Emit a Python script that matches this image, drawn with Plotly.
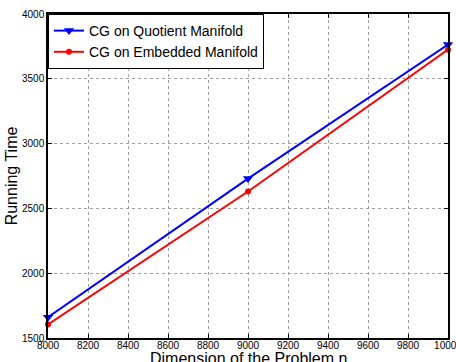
import plotly.graph_objects as go

dims = [8000, 9000, 10000]
quotient = [1660, 2730, 3765]
embedded = [1605, 2630, 3725]
series_names = ["CG on Quotient Manifold", "CG on Embedded Manifold"]
x_ticks = [8000, 8200, 8400, 8600, 8800, 9000, 9200, 9400, 9600, 9800, 10000]
y_ticks = [1500, 2000, 2500, 3000, 3500, 4000]

FONT = "Liberation Sans, Arial, Helvetica"

fig = go.Figure()
fig.add_trace(go.Scatter(x=dims, y=quotient, mode="lines+markers", name=series_names[0],
                         line=dict(color="#0000ff", width=2), cliponaxis=False,
                         marker=dict(symbol="triangle-down", size=9, color="#0000ff")))
fig.add_trace(go.Scatter(x=dims, y=embedded, mode="lines+markers", name=series_names[1],
                         line=dict(color="#ff0000", width=2), cliponaxis=False,
                         marker=dict(symbol="circle", size=6, color="#ff0000")))

axis_common = dict(showline=True, linecolor="black", linewidth=1.5, mirror="ticks",
                   ticks="inside", ticklen=4, tickcolor="black", automargin=False,
                   showgrid=True, gridcolor="#a0a0a0", griddash="dot", gridwidth=1,
                   zeroline=False, tickformat="d", ticklabeloverflow="allow",
                   tickfont=dict(family=FONT, size=10, color="black"))

fig.update_xaxes(range=[8000, 10000], tickmode="array", tickvals=x_ticks,
                 ticktext=[str(v) for v in x_ticks], ticklabelstandoff=-3, **axis_common)
fig.update_yaxes(range=[1500, 4000], tickmode="array", tickvals=y_ticks,
                 ticktext=[str(v) for v in y_ticks],
                 title=dict(text="Running Time", standoff=0,
                            font=dict(family=FONT, size=16, color="black")),
                 **axis_common)

fig.add_annotation(text="Dimension of the Problem n", xref="paper", yref="paper",
                   x=0.5, y=0, xanchor="center", yanchor="top", yshift=-10,
                   showarrow=False, font=dict(family=FONT, size=16, color="black"))

fig.update_layout(width=456, height=362, margin=dict(l=48, r=8, t=14, b=24, autoexpand=False),
                  paper_bgcolor="white", plot_bgcolor="white",
                  legend=dict(x=0, y=1, xanchor="left", yanchor="top", bgcolor="white",
                              bordercolor="black", borderwidth=1,
                              font=dict(family=FONT, size=14, color="black"),
                              tracegroupgap=0, itemwidth=30),
                  showlegend=True)

fig.write_html("out.html", config={"displayModeBar": False},
               post_script="document.body.style.margin='0';")
